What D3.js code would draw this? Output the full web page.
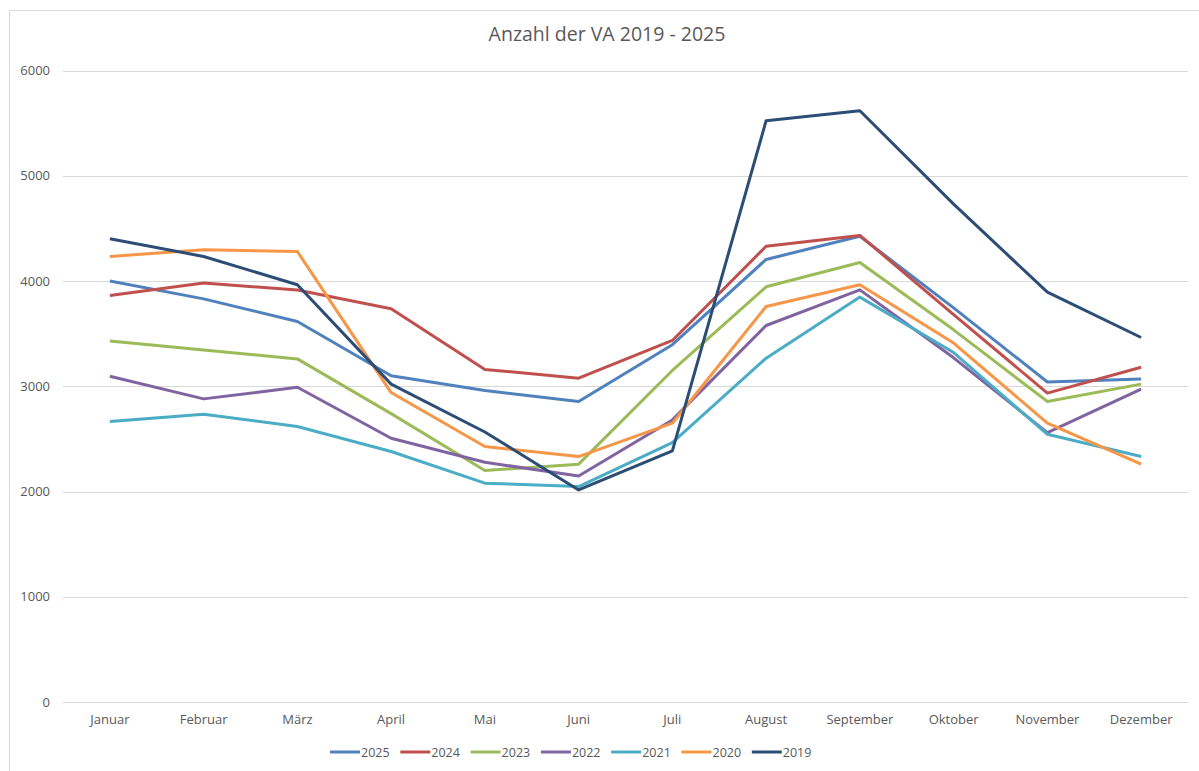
<!DOCTYPE html>
<html>
<head>
<meta charset="utf-8">
<script src="https://cdn.jsdelivr.net/npm/d3@7"></script>
<style>
  body { margin: 0; background: #fff; }
  svg { display: block; font-family: "Open Sans", "Noto Sans", sans-serif; }
</style>
</head>
<body>
<div id="chart"></div>
<script>
const months = ["Januar", "Februar", "März", "April", "Mai", "Juni", "Juli",
    "August", "September", "Oktober", "November", "Dezember"];
const yTicks = [0, 1000, 2000, 3000, 4000, 5000, 6000];

// values
const va2025 = [4000, 3830, 3615, 3100, 2960, 2855, 3395, 4205, 4425, 3745, 3040, 3070];
const va2024 = [3862, 3980, 3915, 3736, 3160, 3077, 3435, 4330, 4433, 3680, 2935, 3181];
const va2023 = [3430, 3345, 3260, 2740, 2199, 2260, 3150, 3945, 4176, 3536, 2855, 3020];
const va2022 = [3095, 2880, 2990, 2506, 2278, 2148, 2680, 3577, 3916, 3270, 2560, 2972];
const va2021 = [2665, 2735, 2617, 2380, 2079, 2047, 2465, 3267, 3847, 3320, 2544, 2332];
const va2020 = [4233, 4297, 4280, 2940, 2427, 2332, 2649, 3758, 3964, 3410, 2649, 2259];
const va2019 = [4401, 4233, 3964, 3020, 2565, 2015, 2386, 5523, 5618, 4730, 3894, 3463];

const seriesNames = ["2025", "2024", "2023", "2022", "2021", "2020", "2019"];
const seriesValues = [va2025, va2024, va2023, va2022, va2021, va2020, va2019];
const seriesColors = ["#4f81bd", "#c0504d", "#9bbb59", "#8064a2", "#4bacc6", "#f79646", "#2c4d75"];

const width = 1199;
const height = 771;
const margin = { top: 70.5, right: 11, bottom: 69, left: 63 };

const svg = d3.select("#chart").append("svg")
    .attr("width", width)
    .attr("height", height);

// chart frame
svg.append("rect")
    .attr("x", 9.5).attr("y", 10.5)
    .attr("width", 1200).attr("height", 800)
    .attr("fill", "none")
    .attr("stroke", "#d9d9d9");

svg.append("text")
    .attr("x", 607).attr("y", 41)
    .attr("text-anchor", "middle")
    .attr("fill", "#595959")
    .style("font-size", "19.5px")
    .text("Anzahl der VA 2019 - 2025");

const x = d3.scaleBand().domain(months).range([margin.left, width - margin.right]);
const y = d3.scaleLinear().domain([0, 6000]).range([height - margin.bottom, margin.top]);

// gridlines
svg.append("g")
    .selectAll("line")
    .data(yTicks)
    .join("line")
    .attr("x1", margin.left).attr("x2", width - margin.right)
    .attr("y1", d => Math.round(y(d)) + 0.5).attr("y2", d => Math.round(y(d)) + 0.5)
    .attr("stroke", "#d9d9d9");

const yAxis = svg.append("g")
    .attr("transform", `translate(${margin.left - 13},0)`)
    .call(d3.axisLeft(y).tickValues(yTicks).tickFormat(d3.format("d")).tickSize(0).tickPadding(0));
yAxis.select(".domain").remove();
yAxis.selectAll("text").attr("fill", "#595959").style("font-size", "13px")
    .style("font-family", "'Open Sans', sans-serif");

const xAxis = svg.append("g")
    .attr("transform", `translate(0,${height - margin.bottom})`)
    .call(d3.axisBottom(x).tickSize(0).tickPadding(13));
xAxis.select(".domain").remove();
xAxis.selectAll("text").attr("fill", "#595959").style("font-size", "13px")
    .style("font-family", "'Open Sans', sans-serif");

const line = d3.line()
    .x((d, i) => x(months[i]) + x.bandwidth() / 2)
    .y(d => y(d));

svg.append("g")
    .selectAll("path")
    .data(seriesValues)
    .join("path")
    .attr("d", d => line(d))
    .attr("fill", "none")
    .attr("stroke", (d, i) => seriesColors[i])
    .attr("stroke-width", 3)
    .attr("stroke-linejoin", "round");

// legend
const legend = svg.append("g").attr("transform", "translate(330,752)");
const item = legend.selectAll("g")
    .data(seriesNames)
    .join("g")
    .attr("transform", (d, i) => `translate(${i * 70.3},0)`);
item.append("line")
    .attr("x1", 0).attr("x2", 30)
    .attr("stroke", (d, i) => seriesColors[i])
    .attr("stroke-width", 3);
item.append("text")
    .attr("x", 31).attr("y", 4.5)
    .attr("fill", "#595959")
    .style("font-size", "12.5px")
    .text(d => d);
</script>
</body>
</html>
